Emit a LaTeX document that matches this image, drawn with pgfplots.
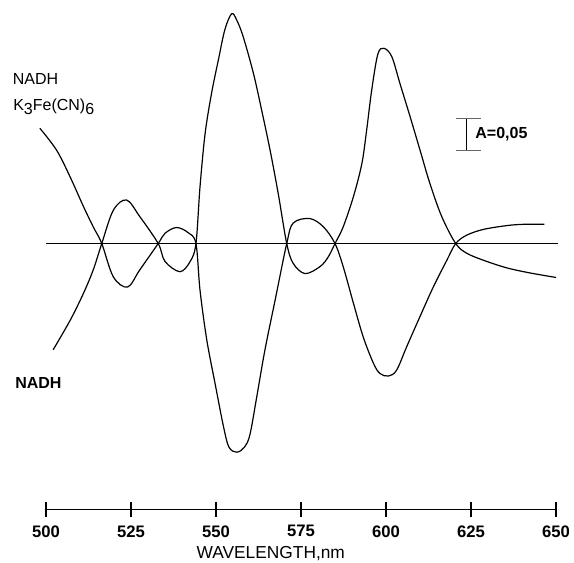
\documentclass[border=0pt]{standalone}
\usepackage{pgfplots}
\pgfplotsset{compat=1.18}
\usepackage{fontspec}
\setmainfont{Liberation Sans}

% difference spectra, absorbance vs. zero line (A = 0.05 bar)
\pgfplotstableread{
lam    dA
502.1 -0.166
507.1 -0.120
511.0 -0.078
513.9 -0.041
516.4  0.000
519.8  0.052
523.7  0.068
527.6  0.042
533.0  0.000
535.0 -0.028
539.4 -0.044
542.4 -0.028
544.1  0.000
545.3  0.089
546.8  0.172
548.7  0.235
550.7  0.287
552.6  0.334
554.6  0.359
556.1  0.349
558.0  0.323
561.0  0.266
563.4  0.209
565.9  0.146
568.3  0.078
570.8  0.000
572.7 -0.031
576.2 -0.047
580.6 -0.036
583.0 -0.021
585.0  0.000
587.4  0.026
590.4  0.073
592.9  0.125
594.3  0.177
595.8  0.240
597.6  0.296
599.4  0.305
601.7  0.292
604.1  0.250
607.1  0.198
610.0  0.146
612.9  0.094
616.4  0.042
620.5  0.000
623.7 -0.015
628.6 -0.026
635.5 -0.038
642.4 -0.046
650.0 -0.053
}\nadh

\pgfplotstableread{
lam    dA
498.2  0.180
503.1  0.146
507.1  0.104
511.0  0.058
513.9  0.026
516.4  0.000
519.8 -0.052
524.0 -0.068
527.6 -0.041
533.0  0.000
535.0  0.016
538.4  0.025
541.8  0.017
544.1  0.000
545.3 -0.073
547.3 -0.151
549.7 -0.218
552.2 -0.286
553.8 -0.318
556.1 -0.326
558.4 -0.318
560.0 -0.298
562.0 -0.239
564.4 -0.166
567.4 -0.088
570.8  0.000
572.7  0.032
577.6  0.039
581.6  0.026
585.0  0.000
587.4 -0.036
590.4 -0.093
593.3 -0.146
596.3 -0.187
598.2 -0.203
600.7 -0.207
603.1 -0.198
606.1 -0.161
610.0 -0.114
613.9 -0.068
617.9 -0.026
620.5  0.000
623.7  0.013
628.6  0.022
635.5  0.028
640.4  0.030
646.6  0.030
}\ferri

\begin{document}
\begin{tikzpicture}
  \begin{axis}[
      scale only axis,
      width=382.5pt, height=382pt,
      xmin=500, xmax=650,
      ymin=-0.4153, ymax=0.3805,
      axis x line=bottom,
      axis y line=none,
      x axis line style={-, line width=0.8pt},
      xtick={500,525,...,650},
      tick align=center,
      major tick length=11pt,
      every tick/.style={black, line width=0.8pt},
      /pgf/number format/assume math mode=true,
      xticklabel style={font=\bfseries\fontsize{12.5}{14}\selectfont, yshift=-3pt},
      clip=false,
    ]
    \addplot[black, line width=0.9pt] coordinates {(500,0) (650.5,0)};
    \addplot[black, line width=0.9pt, smooth, tension=0.55] table[x=lam, y=dA] {\nadh};
    \addplot[black, line width=0.9pt, smooth, tension=0.55] table[x=lam, y=dA] {\ferri};

    % scale bar
    \draw[black, line width=0.6pt] (axis cs:623.5,0.1961) -- (axis cs:623.5,0.1461);
    \draw[black!60, line width=0.6pt] (axis cs:620.6,0.1961) -- (axis cs:628.0,0.1961);
    \draw[black!60, line width=0.6pt] (axis cs:620.6,0.1461) -- (axis cs:628.0,0.1461);
    \node[anchor=base west, inner sep=0pt, font=\bfseries\fontsize{12}{14}\selectfont]
      at (axis cs:626.2,0.1648) {A=0,05};

    % curve labels
    \node[anchor=base west, inner sep=0pt, font=\fontsize{12}{14}\selectfont]
      at (axis cs:490.2,0.2492) {NADH};
    \node[anchor=base west, inner sep=0pt, font=\fontsize{12}{14}\selectfont]
      at (axis cs:490.3,0.2086) {K\raisebox{-0.55ex}{3}Fe(CN)\raisebox{-0.55ex}{6}};
    \node[anchor=base west, inner sep=0pt, font=\bfseries\fontsize{12}{14}\selectfont]
      at (axis cs:490.9,-0.2258) {NADH};

    % axis title
    \node[anchor=center, inner sep=0pt, font=\fontsize{13}{15}\selectfont]
      at (axis cs:566.1,-0.4836) {WAVELENGTH,nm};

    \coordinate (bbsw) at (axis cs:486.47,-0.4977);
    \coordinate (bbne) at (axis cs:655.29,0.3805);
  \end{axis}
  \pgfresetboundingbox
  \path[use as bounding box] (bbsw) rectangle (bbne);
\end{tikzpicture}
\end{document}
